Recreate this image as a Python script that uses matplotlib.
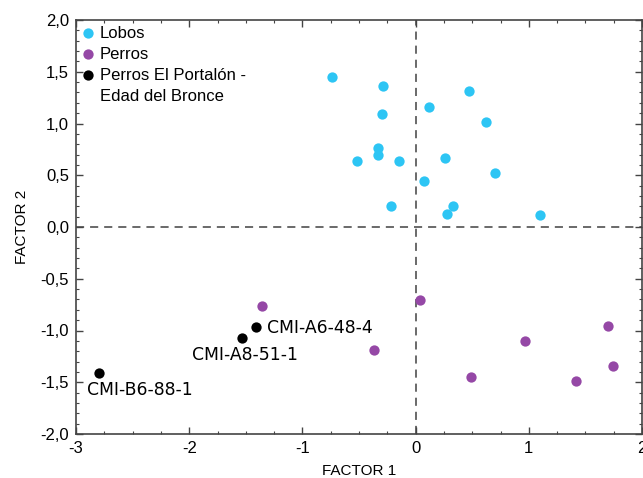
import matplotlib
matplotlib.use("Agg")
import matplotlib.pyplot as plt
from matplotlib.lines import Line2D
from matplotlib.ticker import MultipleLocator, FixedLocator

# ─── DATA ────────────────────────────────────────────────────
lobos_x = [-0.74, -0.29, 0.47, 0.12, -0.30, 0.62, -0.33, -0.33, -0.52, -0.15,
           0.26, 0.70, 0.07, -0.22, 0.33, 0.28, 1.10]
lobos_y = [1.45, 1.36, 1.31, 1.16, 1.09, 1.01, 0.76, 0.70, 0.64, 0.64,
           0.67, 0.52, 0.44, 0.20, 0.20, 0.13, 0.12]

perros_x = [-1.36, -0.37, 0.04, 0.49, 0.97, 1.42, 1.70, 1.74]
perros_y = [-0.76, -1.19, -0.71, -1.45, -1.10, -1.49, -0.96, -1.34]

portalon_x = [-1.41, -1.53, -2.80]
portalon_y = [-0.97, -1.07, -1.41]
portalon_names = ["CMI-A6-48-4", "CMI-A8-51-1", "CMI-B6-88-1"]

x_ticks = [-3, -2, -1, 0, 1, 2]
y_ticks = [-2.0, -1.5, -1.0, -0.5, 0.0, 0.5, 1.0, 1.5, 2.0]

# ─── STYLE ───────────────────────────────────────────────────
CYAN   = "#2DC5F4"
PURPLE = "#9548A6"
BLACK  = "#000000"
plt.rcParams['font.family'] = ['Liberation Sans', 'DejaVu Sans']

fig = plt.figure(figsize=(6.43, 4.78), dpi=100)
ax = fig.add_axes([76 / 643, 1 - 434 / 478, 566 / 643, 414 / 478])

ax.axvline(0, color="#5e5e5e", lw=1.3, ls=(0, (4.5, 3.3)), zorder=1)
ax.axhline(0, color="#5e5e5e", lw=1.3, ls=(0, (4.5, 3.3)), zorder=1)

h1 = ax.scatter(lobos_x, lobos_y, s=55, color=CYAN, lw=0, zorder=3)
h2 = ax.scatter(perros_x, perros_y, s=55, color=PURPLE, lw=0, zorder=3)
h3 = ax.scatter(portalon_x, portalon_y, s=55, color=BLACK, lw=0, zorder=3)

# point labels (offsets in pixels)
offsets = [(11, -1, "left"), (3, -17, "center"), (-12, -17, "left")]
for x, y, name, (dx, dy, ha) in zip(portalon_x, portalon_y, portalon_names, offsets):
    ax.annotate(name, (x, y), xytext=(dx, dy), textcoords="offset pixels",
                ha=ha, va="center", fontsize=12.4, family="DejaVu Sans")

ax.set_xlim(-3, 2)
ax.set_ylim(-2, 2)
ax.xaxis.set_major_locator(FixedLocator(x_ticks))
ax.yaxis.set_major_locator(FixedLocator(y_ticks))
ax.set_xticklabels([str(t) for t in x_ticks])
ax.set_yticklabels([f"{t:.1f}".replace(".", ",") for t in y_ticks])
ax.xaxis.set_minor_locator(MultipleLocator(0.25))
ax.yaxis.set_minor_locator(MultipleLocator(0.1))
ax.tick_params(which="both", direction="in", top=True, right=True,
               color="#444444", labelsize=12, pad=5)
ax.tick_params(which="major", length=5, width=1)
ax.tick_params(which="minor", length=2.5, width=0.8)
for sp in ax.spines.values():
    sp.set_color("#444444")
    sp.set_linewidth(1.2)

ax.set_xlabel("FACTOR 1", fontsize=11, labelpad=6)
ax.set_ylabel("FACTOR 2", fontsize=11, labelpad=8)

# second line of the last legend entry has no marker
blank = Line2D([], [], ls="none")
ax.legend([h1, h2, h3, blank],
          ["Lobos", "Perros", "Perros El Portalón -", "Edad del Bronce"],
          loc="upper left", bbox_to_anchor=(0, 1 - 2 / 414), frameon=False,
          fontsize=12, handletextpad=0.2, borderaxespad=0, labelspacing=0.36,
          handlelength=1.0, borderpad=0.22)

fig.savefig("out.png", dpi=100)
